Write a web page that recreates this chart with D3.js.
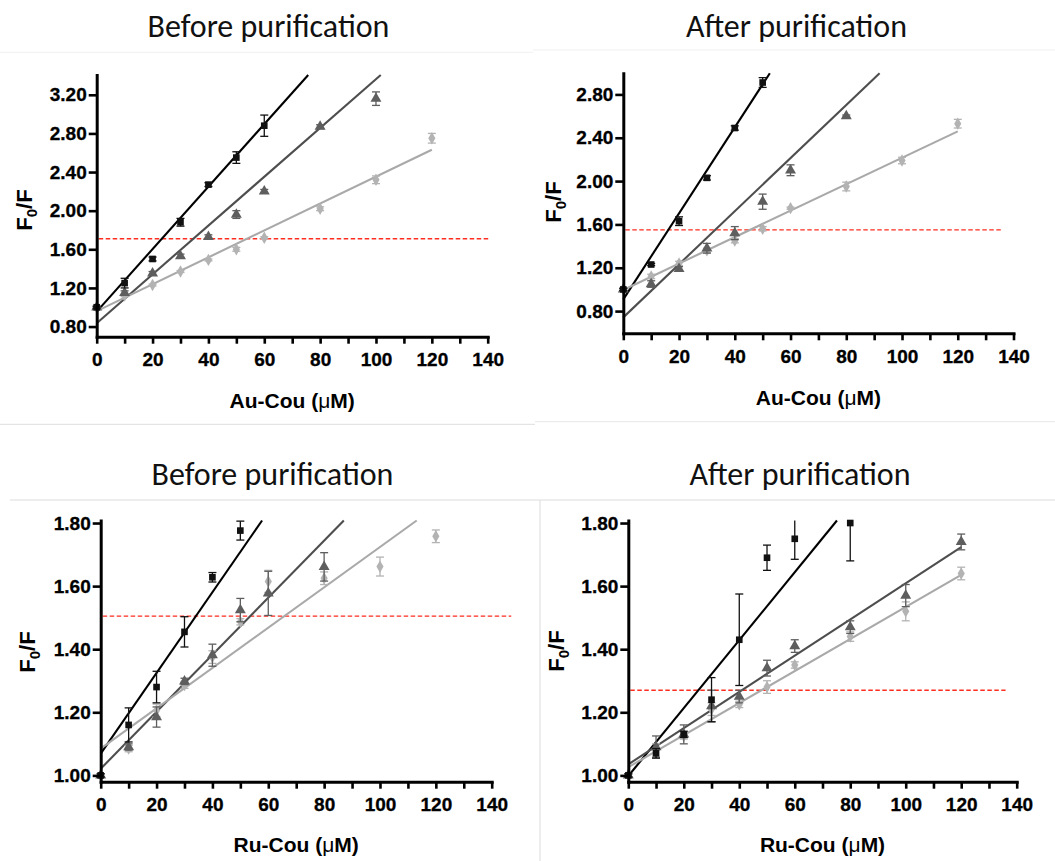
<!DOCTYPE html>
<html>
<head>
<meta charset="utf-8">
<script src="https://cdn.jsdelivr.net/npm/d3@7"></script>
<style>
  body { margin: 0; background: #fff; }
  svg { display: block; }
</style>
</head>
<body>
<svg id="fig" width="1055" height="861"></svg>
<script>
// ---------- data ----------
const panelTitles = ["Before purification", "After purification", "Before purification", "After purification"];
const complexNames = ["Au-Cou", "Au-Cou", "Ru-Cou", "Ru-Cou"];
const xTickValues = [0, 10, 20, 30, 40, 50, 60, 70, 80, 90, 100, 110, 120, 130, 140];
const yTicksAuBefore = [0.80, 1.20, 1.60, 2.00, 2.40, 2.80, 3.20];
const yTicksAuAfter = [0.80, 1.20, 1.60, 2.00, 2.40, 2.80];
const yTicksRu = [1.00, 1.20, 1.40, 1.60, 1.80];

// Au-Cou, before purification
const auBeforeSqX = [0, 10, 20, 30, 40, 50, 60];
const auBeforeSqY = [1.00, 1.25, 1.50, 1.88, 2.27, 2.55, 2.88];
const auBeforeSqErr = [0.01, 0.05, 0.02, 0.04, 0.02, 0.06, 0.11];
const auBeforeTriX = [0, 10, 20, 30, 40, 50, 60, 80, 100];
const auBeforeTriY = [1.00, 1.15, 1.35, 1.53, 1.73, 1.96, 2.20, 2.87, 3.16];
const auBeforeTriErr = [0.01, 0.02, 0.02, 0.02, 0.02, 0.04, 0.02, 0.02, 0.07];
const auBeforeDiaX = [0, 10, 20, 30, 40, 50, 60, 80, 100, 120];
const auBeforeDiaY = [1.00, 1.12, 1.23, 1.37, 1.49, 1.60, 1.72, 2.02, 2.32, 2.75];
const auBeforeDiaErr = [0.01, 0.01, 0.01, 0.01, 0.01, 0.02, 0.01, 0.02, 0.04, 0.05];
const auBeforeFits = [[0.03235, 0.955], [0.02527, 0.835], [0.01392, 0.96]];

// Au-Cou, after purification
const auAfterSqX = [0, 10, 20, 30, 40, 50];
const auAfterSqY = [1.00, 1.23, 1.63, 2.03, 2.49, 2.91];
const auAfterSqErr = [0.01, 0.01, 0.04, 0.02, 0.02, 0.045];
const auAfterTriX = [0, 10, 20, 30, 40, 50, 60, 80];
const auAfterTriY = [1.00, 1.05, 1.19, 1.38, 1.52, 1.81, 2.10, 2.60];
const auAfterTriErr = [0.01, 0.03, 0.02, 0.045, 0.06, 0.07, 0.05, 0.01];
const auAfterDiaX = [0, 10, 20, 30, 40, 50, 60, 80, 100, 120];
const auAfterDiaY = [1.00, 1.12, 1.24, 1.36, 1.45, 1.56, 1.75, 1.95, 2.19, 2.53];
const auAfterDiaErr = [0.01, 0.02, 0.02, 0.02, 0.02, 0.02, 0.01, 0.04, 0.03, 0.04];
const auAfterFits = [[0.0397, 0.908], [0.0245, 0.742], [0.0122, 0.995]];

// Ru-Cou, before purification
const ruBeforeSqX = [0, 10, 20, 30, 40, 50];
const ruBeforeSqY = [1.00, 1.16, 1.28, 1.455, 1.628, 1.776];
const ruBeforeSqErr = [0.005, 0.054, 0.05, 0.048, 0.015, 0.03];
const ruBeforeTriX = [0, 10, 20, 30, 40, 50, 60, 80];
const ruBeforeTriY = [1.00, 1.09, 1.185, 1.298, 1.381, 1.524, 1.577, 1.661];
const ruBeforeTriErr = [0.005, 0.01, 0.032, 0.01, 0.035, 0.037, 0.07, 0.045];
const ruBeforeDiaX = [0, 10, 20, 30, 40, 50, 60, 80, 100, 120];
const ruBeforeDiaY = [1.00, 1.085, 1.206, 1.286, 1.375, 1.487, 1.615, 1.625, 1.662, 1.758];
const ruBeforeDiaErr = [0.005, 0.01, 0.02, 0.01, 0.02, 0.01, 0.035, 0.02, 0.03, 0.02];
const ruBeforeFits = [[0.01279, 1.069], [0.00904, 1.021], [0.00639, 1.085]];

// Ru-Cou, after purification
const ruAfterSqX = [0, 10, 20, 30, 40, 50, 60, 80];
const ruAfterSqY = [1.00, 1.07, 1.13, 1.24, 1.43, 1.69, 1.75, 1.80];
const ruAfterSqErr = [0.005, 0.015, 0.01, 0.07, 0.145, 0.04, 0.065, 0.12];
const ruAfterTriX = [0, 10, 20, 30, 40, 50, 60, 80, 100, 120];
const ruAfterTriY = [1.00, 1.09, 1.13, 1.22, 1.25, 1.34, 1.41, 1.47, 1.57, 1.74];
const ruAfterTriErr = [0.005, 0.035, 0.03, 0.05, 0.02, 0.025, 0.02, 0.02, 0.035, 0.025];
const ruAfterDiaX = [0, 10, 20, 30, 40, 50, 60, 80, 100, 120];
const ruAfterDiaY = [1.00, 1.08, 1.125, 1.21, 1.225, 1.28, 1.35, 1.44, 1.52, 1.64];
const ruAfterDiaErr = [0.005, 0.02, 0.01, 0.02, 0.01, 0.02, 0.01, 0.015, 0.03, 0.02];
const ruAfterFits = [[0.01077, 0.998], [0.00574, 1.035], [0.00508, 1.026]];

// half-quenching reference level (F0/F) and how far the dashed line runs (µM)
const thresholdF = [1.71, 1.55, 1.505, 1.27];
const thresholdEnd = [141, 136, 147, 136];
const fitEndX = 120;

// ---------- styling / layout ----------
const seriesStyle = [
  { marker: "square",   fill: "#111111", line: "#000000", size: 44 },
  { marker: "triangle", fill: "#5e5e5e", line: "#4e4e4e", size: 52 },
  { marker: "diamond",  fill: "#b3b3b3", line: "#a9a9a9", size: 44 }
];

const panels = [
  { x0: 96.7,  x1: 487.7,  yTop: 75,    yBot: 336.7, yDom: [0.695, 3.405], yTicks: yTicksAuBefore,
    titleX: 268.5, titleY: 37,  yLabX: 32,  yLabY: 210, xLabY: 408,
    series: [[auBeforeSqX, auBeforeSqY, auBeforeSqErr], [auBeforeTriX, auBeforeTriY, auBeforeTriErr], [auBeforeDiaX, auBeforeDiaY, auBeforeDiaErr]],
    fits: auBeforeFits },
  { x0: 623.3, x1: 1013.5, yTop: 73.3,  yBot: 333.3, yDom: [0.595, 2.995], yTicks: yTicksAuAfter,
    titleX: 796.5, titleY: 37,  yLabX: 561, yLabY: 202, xLabY: 405,
    series: [[auAfterSqX, auAfterSqY, auAfterSqErr], [auAfterTriX, auAfterTriY, auAfterTriErr], [auAfterDiaX, auAfterDiaY, auAfterDiaErr]],
    fits: auAfterFits },
  { x0: 100.7, x1: 491.7,  yTop: 520.5, yBot: 781.7, yDom: [0.98, 1.808], yTicks: yTicksRu,
    titleX: 272.5, titleY: 485, yLabX: 35,  yLabY: 652, xLabY: 852,
    series: [[ruBeforeSqX, ruBeforeSqY, ruBeforeSqErr], [ruBeforeTriX, ruBeforeTriY, ruBeforeTriErr], [ruBeforeDiaX, ruBeforeDiaY, ruBeforeDiaErr]],
    fits: ruBeforeFits },
  { x0: 628.3, x1: 1016.7, yTop: 520.5, yBot: 781.7, yDom: [0.98, 1.808], yTicks: yTicksRu,
    titleX: 800, titleY: 485, yLabX: 564, yLabY: 651, xLabY: 852,
    series: [[ruAfterSqX, ruAfterSqY, ruAfterSqErr], [ruAfterTriX, ruAfterTriY, ruAfterTriErr], [ruAfterDiaX, ruAfterDiaY, ruAfterDiaErr]],
    fits: ruAfterFits }
];

const svg = d3.select("#fig");
const axisFont = "'Liberation Sans', Arial, Helvetica, sans-serif";
const titleFont = "Carlito, Calibri, 'Open Sans', sans-serif";

// faint frame lines between the four graphs
const frameLines = [
  [0, 52.3, 533, 52.3, "#f0f0f0"],
  [533, 50, 1055, 50, "#f0f0f0"],
  [0, 424.3, 535, 424.3, "#dedede"],
  [535, 421.7, 1055, 421.7, "#e6e6e6"],
  [10, 500, 1055, 500, "#dcdcdc"],
  [540, 500, 540, 861, "#dcdcdc"]
];
svg.append("g").selectAll("line").data(frameLines).join("line")
  .attr("x1", d => d[0]).attr("y1", d => d[1])
  .attr("x2", d => d[2]).attr("y2", d => d[3])
  .attr("stroke", d => d[4]).attr("stroke-width", 1);

const symbolType = { square: d3.symbolSquare, triangle: d3.symbolTriangle, diamond: d3.symbolDiamond };

panels.forEach((p, i) => {
  const g = svg.append("g");
  const x = d3.scaleLinear().domain([0, 140]).range([p.x0, p.x1]);
  const y = d3.scaleLinear().domain(p.yDom).range([p.yBot, p.yTop]);
  const yMax = p.yDom[1];

  // dashed reference level
  g.append("line")
    .attr("x1", x(0) + 2).attr("x2", x(thresholdEnd[i]))
    .attr("y1", y(thresholdF[i])).attr("y2", y(thresholdF[i]))
    .attr("stroke", "#ff2d1f").attr("stroke-width", 1.4)
    .attr("stroke-dasharray", "4.5,2.5");

  // linear Stern-Volmer fits, clipped at the top of the axis
  p.fits.forEach((f, k) => {
    const [m, b] = f;
    const xEnd = Math.min(fitEndX, (yMax - b) / m);
    g.append("line")
      .attr("x1", x(0)).attr("y1", y(b))
      .attr("x2", x(xEnd)).attr("y2", y(b + m * xEnd))
      .attr("stroke", seriesStyle[k].line)
      .attr("stroke-width", 2.1);
  });

  // data with SD error bars (light series first so black sits on top)
  [2, 1, 0].forEach(k => {
    const [xs, ys, es] = p.series[k];
    const st = seriesStyle[k];
    const pts = xs.map((xv, j) => ({ x: xv, y: ys[j], e: es[j] }));
    const eg = g.append("g").attr("stroke", st.fill).attr("stroke-width", 1.3).attr("fill", "none");
    pts.forEach(d => {
      const hi = Math.min(d.y + d.e, yMax), lo = d.y - d.e;
      const cx = x(d.x);
      eg.append("line").attr("x1", cx).attr("x2", cx).attr("y1", y(hi)).attr("y2", y(lo));
      if (d.y + d.e <= yMax) eg.append("line").attr("x1", cx - 4).attr("x2", cx + 4).attr("y1", y(hi)).attr("y2", y(hi));
      eg.append("line").attr("x1", cx - 4).attr("x2", cx + 4).attr("y1", y(lo)).attr("y2", y(lo));
    });
    g.append("g").selectAll("path").data(pts).join("path")
      .attr("transform", d => `translate(${x(d.x)},${y(d.y)})`)
      .attr("d", d3.symbol().type(symbolType[st.marker]).size(st.size))
      .attr("fill", st.fill);
  });

  // axes
  const yAxis = d3.axisLeft(y).tickValues(p.yTicks).tickFormat(d3.format(".2f"))
    .tickSize(8).tickSizeOuter(0).tickPadding(2);
  const ya = g.append("g").attr("transform", `translate(${p.x0},0)`).call(yAxis);
  const xAxis = d3.axisBottom(x).tickValues(xTickValues)
    .tickFormat(d => (d % 20 === 0 ? d : "")).tickSize(7).tickSizeOuter(0).tickPadding(9);
  const xa = g.append("g").attr("transform", `translate(0,${p.yBot})`).call(xAxis);
  [ya, xa].forEach(a => {
    a.select(".domain").attr("stroke", "#000").attr("stroke-width", 3).attr("stroke-linecap", "square");
    a.selectAll(".tick line").attr("stroke", "#000").attr("stroke-width", 2.6);
    a.selectAll(".tick text").attr("fill", "#000")
      .attr("stroke", "#000").attr("stroke-width", 0.3)
      .style("font-family", axisFont).style("font-weight", "bold").style("font-size", "19px");
  });

  // panel title
  g.append("text")
    .attr("x", p.titleX).attr("y", p.titleY)
    .attr("text-anchor", "middle")
    .style("font-family", titleFont).style("font-size", "32px").attr("fill", "#111")
    .text(panelTitles[i]);

  // x-axis title
  const xl = g.append("text")
    .attr("x", (p.x0 + p.x1) / 2).attr("y", p.xLabY)
    .attr("text-anchor", "middle")
    .style("font-family", axisFont).style("font-size", "21px").style("font-weight", "bold").attr("fill", "#000");
  xl.append("tspan").text(complexNames[i] + " (");
  xl.append("tspan").style("font-weight", "normal").text("\u03bc");
  xl.append("tspan").text("M)");

  // y-axis title F0/F
  const yl = g.append("text")
    .attr("transform", `translate(${p.yLabX},${p.yLabY}) rotate(-90)`)
    .attr("text-anchor", "middle")
    .style("font-family", axisFont).style("font-size", "22px").style("font-weight", "bold").attr("fill", "#000");
  yl.append("tspan").text("F");
  yl.append("tspan").attr("dy", 5).style("font-size", "15px").text("0");
  yl.append("tspan").attr("dy", -5).text("/F");
});
</script>
</body>
</html>
